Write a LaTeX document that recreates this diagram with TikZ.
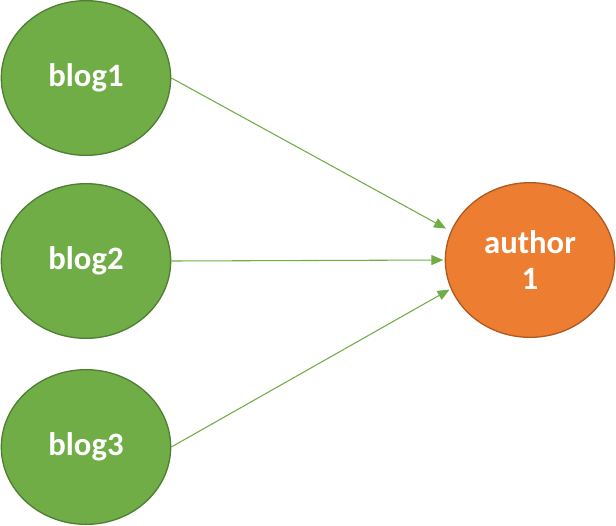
\documentclass[tikz,border=0pt]{standalone}
\usepackage{fontspec}
\setmainfont{Carlito}
\usetikzlibrary{shapes.geometric, arrows.meta}
\definecolor{blogfill}{HTML}{70AD47}
\definecolor{blogline}{HTML}{507E32}
\definecolor{authfill}{HTML}{ED7D31}
\definecolor{authline}{HTML}{AE5A21}
\begin{document}
\begin{tikzpicture}[x=0.75pt, y=-0.75pt,
        every node/.style={ellipse, inner sep=0pt, minimum width=127pt, minimum height=116pt,
            line width=1pt, text=white, font=\fontsize{24.5}{27}\selectfont\bfseries, align=center},
        blognode/.style={fill=blogfill, draw=blogline},
        authnode/.style={fill=authfill, draw=authline},
        >={Triangle[length=9pt, width=7.5pt]}]
        \useasboundingbox (0, 0) rectangle (616, 525);
        \node[blognode] (blog1) at (86, 78) {blog1};
        \node[blognode] (blog2) at (86, 261) {blog2};
        \node[blognode] (blog3) at (86, 447) {blog3};
        \node[authnode] (author) at (530, 260) {author\\1};
        \draw[->, blogfill, line width=0.8pt, shorten >=4pt] (blog1.east) -- (author.160);
        \draw[->, blogfill, line width=0.8pt, shorten >=1pt] (blog2.east) -- (author.west);
        \draw[->, blogfill, line width=0.8pt, shorten >=1pt] (blog3.east) -- (author.200);
    \end{tikzpicture}
\end{document}
